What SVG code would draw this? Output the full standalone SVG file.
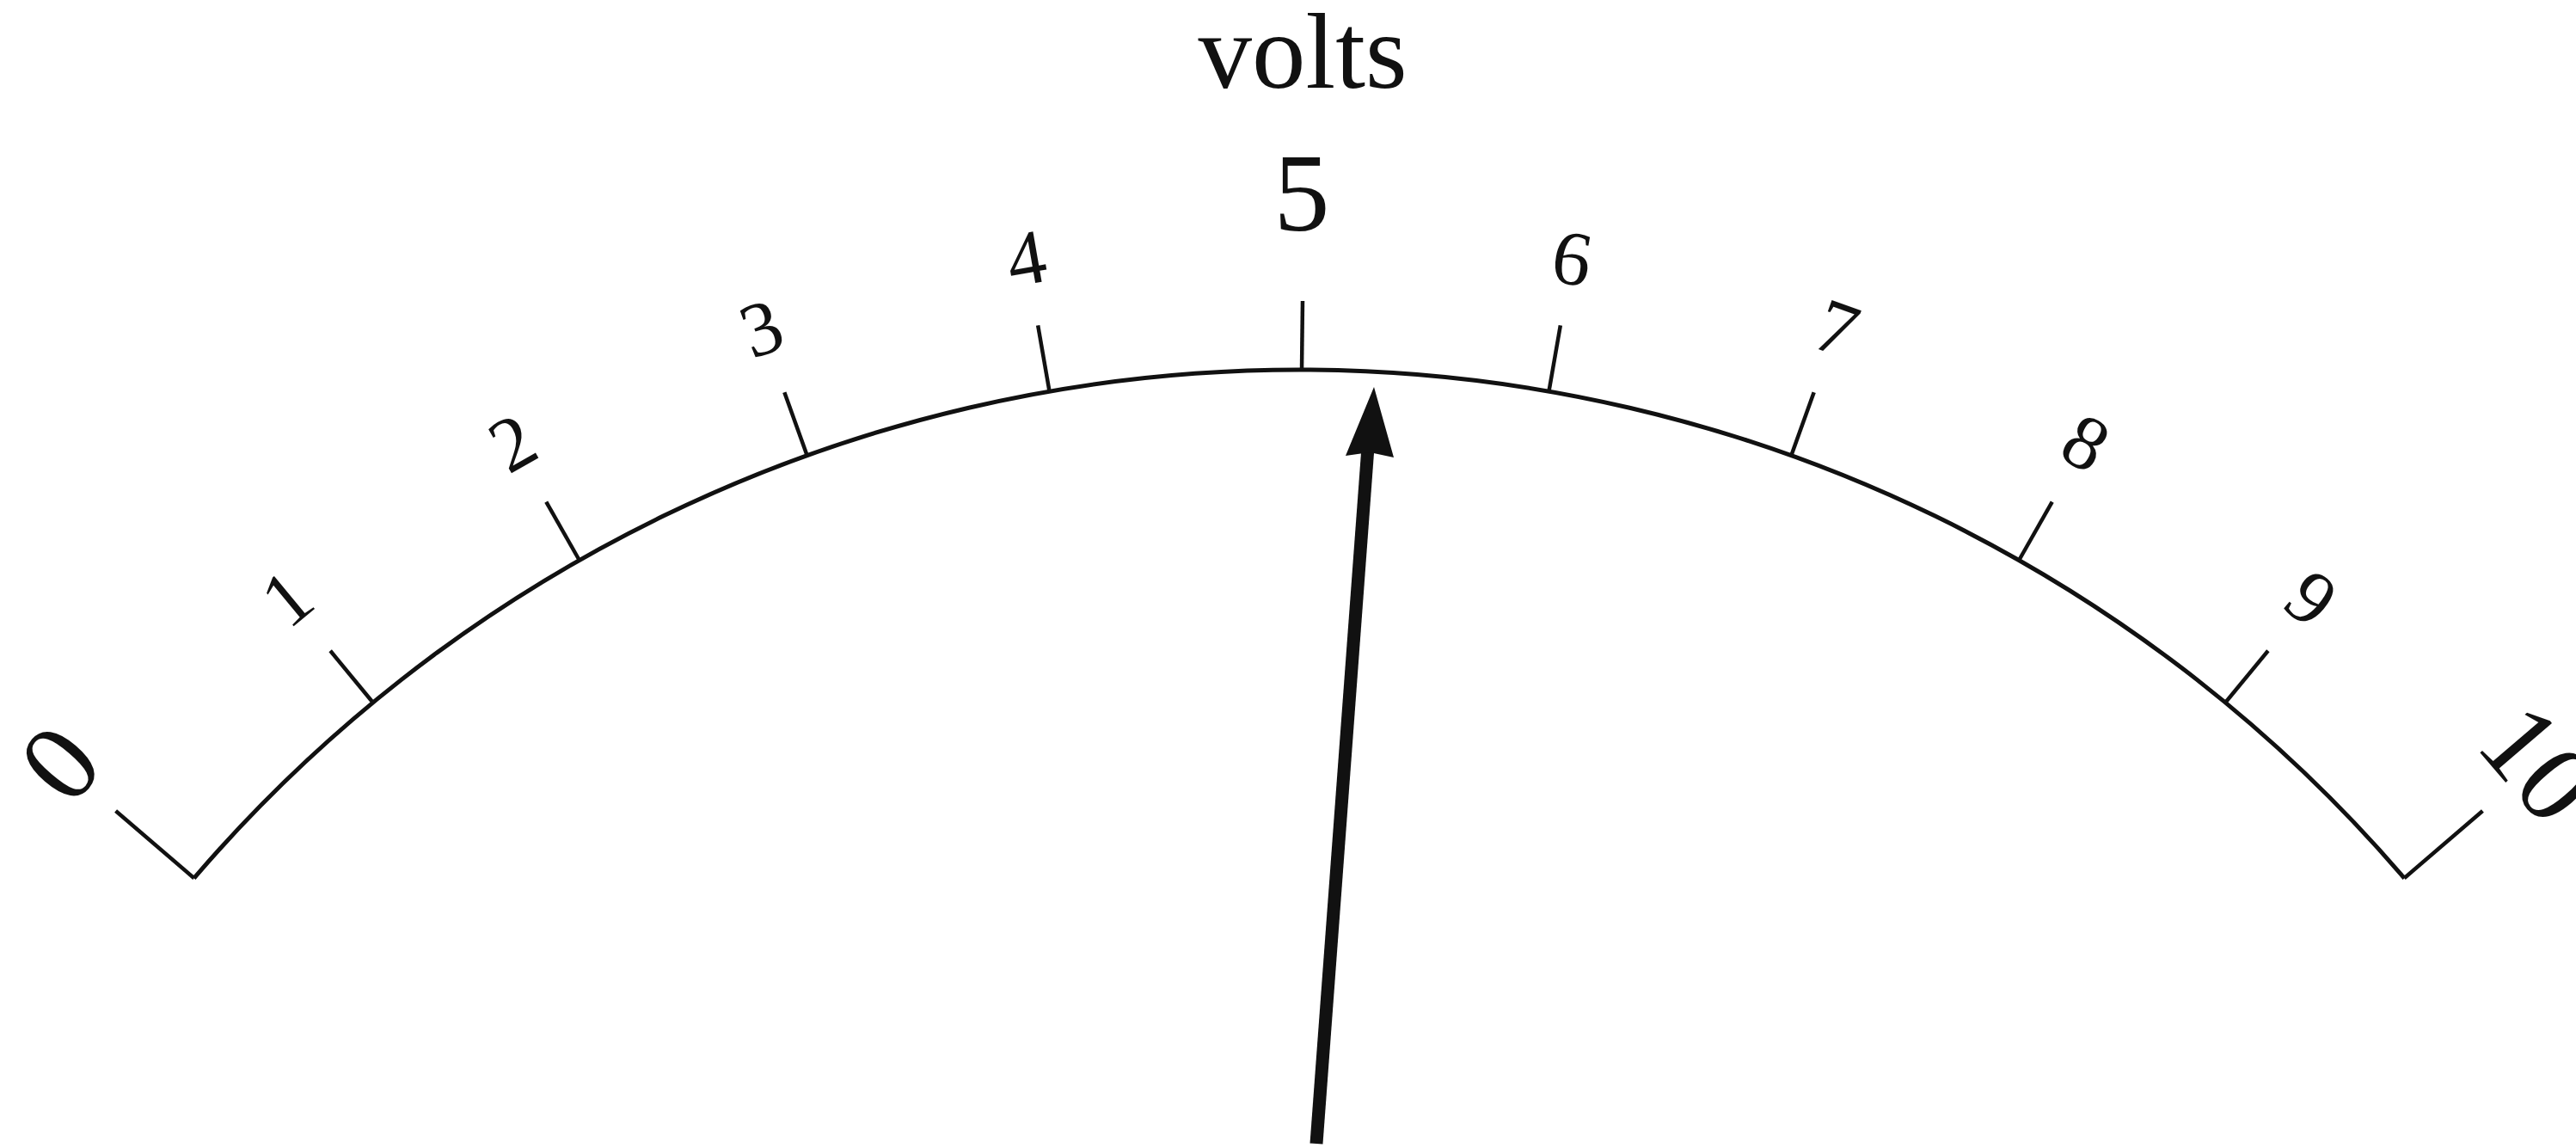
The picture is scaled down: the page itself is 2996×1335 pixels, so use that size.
<svg xmlns="http://www.w3.org/2000/svg" width="2996" height="1335" viewBox="0 0 2996 1335">
<style>
.arc{fill:none;stroke:#111;stroke-width:5}
.tick{stroke:#111;stroke-width:4.5;stroke-linecap:butt}
.lbl{font-family:"Liberation Serif","Times New Roman",serif;fill:#111;text-anchor:middle}
.sm{font-size:90px}
.lg{font-size:130px}
.title{font-family:"Liberation Serif","Times New Roman",serif;font-size:125px;fill:#111;text-anchor:middle}
</style>
<rect width="2996" height="1335" fill="#fff"/>
<text id="title" class="title" x="1515" y="102">volts</text>
<g id="scale">
<path class="arc" d="M225.6 1021.3 A1692.8 1692.8 0 0 1 2796.4 1021.3"/>
<g id="ticks">
<line class="tick" x1="1511" y1="430" x2="1511" y2="310" transform="rotate(-49.4 1511 2122.8)"/>
<line class="tick" x1="1511" y1="430" x2="1511" y2="352" transform="rotate(-39.52 1511 2122.8)"/>
<line class="tick" x1="1511" y1="430" x2="1511" y2="352" transform="rotate(-29.64 1511 2122.8)"/>
<line class="tick" x1="1511" y1="430" x2="1511" y2="352" transform="rotate(-19.76 1511 2122.8)"/>
<line class="tick" x1="1511" y1="430" x2="1511" y2="352" transform="rotate(-9.88 1511 2122.8)"/>
<line class="tick" x1="1514" y1="430" x2="1515" y2="350"/>
<line class="tick" x1="1511" y1="430" x2="1511" y2="352" transform="rotate(9.88 1511 2122.8)"/>
<line class="tick" x1="1511" y1="430" x2="1511" y2="352" transform="rotate(19.76 1511 2122.8)"/>
<line class="tick" x1="1511" y1="430" x2="1511" y2="352" transform="rotate(29.64 1511 2122.8)"/>
<line class="tick" x1="1511" y1="430" x2="1511" y2="352" transform="rotate(39.52 1511 2122.8)"/>
<line class="tick" x1="1511" y1="430" x2="1511" y2="310" transform="rotate(49.4 1511 2122.8)"/>
</g>
</g>
<g id="labels">
<text id="l0" class="lbl lg" x="1511" y="268" transform="rotate(-49.4 1511 2122.8)">0</text>
<text id="l1" class="lbl sm" x="1511" y="303" transform="rotate(-39.52 1511 2122.8)">1</text>
<text id="l2" class="lbl sm" x="1511" y="303" transform="rotate(-29.64 1511 2122.8)">2</text>
<text id="l3" class="lbl sm" x="1511" y="303" transform="rotate(-19.76 1511 2122.8)">3</text>
<text id="l4" class="lbl sm" x="1511" y="303" transform="rotate(-9.88 1511 2122.8)">4</text>
<text id="l5" class="lbl lg" x="1514" y="268">5</text>
<text id="l6" class="lbl sm" x="1511" y="303" transform="rotate(9.88 1511 2122.8)">6</text>
<text id="l7" class="lbl sm" x="1511" y="303" transform="rotate(19.76 1511 2122.8)">7</text>
<text id="l8" class="lbl sm" x="1511" y="303" transform="rotate(29.64 1511 2122.8)">8</text>
<text id="l9" class="lbl sm" x="1511" y="303" transform="rotate(39.52 1511 2122.8)">9</text>
<text id="l10" class="lbl lg" x="1511" y="268" transform="rotate(49.4 1511 2122.8)">10</text>
</g>
<g id="connectors">
<g id="needle">
<line x1="1531" y1="1330" x2="1591" y2="520" stroke="#111" stroke-width="15"/>
<polygon points="1598,450 1621,532 1593,526 1565,530" fill="#111"/>
</g>
</g>
</svg>
